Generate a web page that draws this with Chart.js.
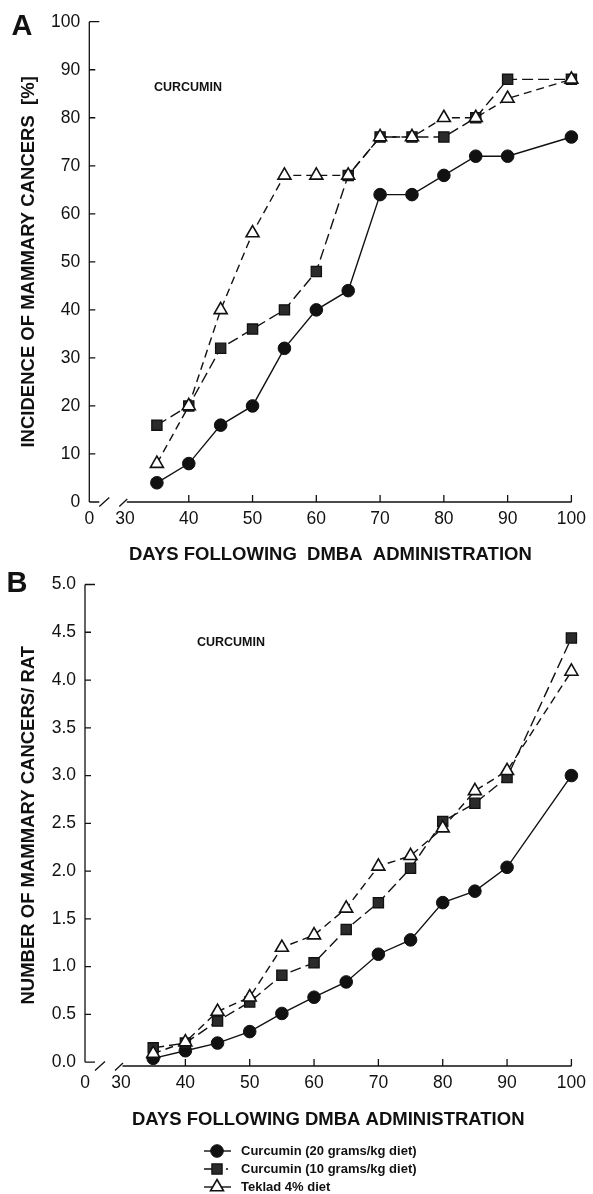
<!DOCTYPE html>
<html lang="en">

<head>
  <meta charset="UTF-8">
  <title>Curcumin | Mammary cancers</title>
  <script src="https://cdn.jsdelivr.net/npm/chart.js"></script>
  <style>
    body { margin: 0; background: #fff; }
    .painel { position: absolute; left: 0; }
    .painel canvas { display: block; }
    #painelA { top: 0; }
    #painelB { top: 565px; }
  </style>
</head>

<body>
  <div class="painel" id="painelA"><canvas id="chartA" width="593" height="575"></canvas></div>
  <div class="painel" id="painelB"><canvas id="chartB" width="593" height="629"></canvas></div>

  <script>
    // dias apos DMBA
    const dias = [35, 40, 45, 50, 55, 60, 65, 70, 75, 80, 85, 90, 100];

    // A - incidencia (%)
    const incidencia20 = [4, 8, 16, 20, 32, 40, 44, 64, 64, 68, 72, 72, 76];
    const incidencia10 = [16, 20, 32, 36, 40, 48, 68, 76, 76, 76, 80, 88, 88];
    const incidenciaTeklad = [8, 20, 40, 56, 68, 68, 68, 76, 76, 80, 80, 84, 88];

    // B - numero de canceres por rato
    const numero20 = [0.04, 0.12, 0.2, 0.32, 0.51, 0.68, 0.84, 1.13, 1.28, 1.67, 1.79, 2.04, 3.0];
    const numero10 = [0.15, 0.2, 0.43, 0.63, 0.91, 1.04, 1.39, 1.67, 2.03, 2.52, 2.71, 2.98, 4.44];
    const numeroTeklad = [0.09, 0.21, 0.53, 0.68, 1.2, 1.33, 1.61, 2.05, 2.16, 2.45, 2.84, 3.05, 4.09];

    const nomes = ['Curcumin (20 grams/kg diet)', 'Curcumin (10 grams/kg diet)', 'Teklad 4% diet'];

    // eixo x quebrado: o "0" fica no inicio, depois salta para 30
    const xZero = 24.4;
    const xTickValues = [xZero, 30, 40, 50, 60, 70, 80, 90, 100];
    const xTickLabels = ['0', '30', '40', '50', '60', '70', '80', '90', '100'];
    const yTicksA = [0, 10, 20, 30, 40, 50, 60, 70, 80, 90, 100];
    const yTicksB = [0, 0.5, 1, 1.5, 2, 2.5, 3, 3.5, 4, 4.5, 5];

    const familia = '"Liberation Sans", Arial, sans-serif';
    const fonteTicks = { family: familia, size: 17.5 };
    const fonteTitulo = { family: familia, size: 18.5, weight: 'bold' };

    const estilos = [
      { pointStyle: 'circle', pointRadius: 6.3, pointBackgroundColor: '#111', pointBorderWidth: 1, order: 2 },
      { pointStyle: 'rect', pointRadius: 7.2, pointBackgroundColor: '#2b2b2b', pointBorderWidth: 1.3, borderDash: [11, 5], order: 1 },
      { pointStyle: 'triangle', pointRadius: 7.5, pointBackgroundColor: '#fff', pointBorderWidth: 1.6, borderDash: [8, 5], order: 0 }
    ];

    function serie(i, valores) {
      return Object.assign({
        label: nomes[i],
        data: dias.map((d, k) => ({ x: d, y: valores[k] })),
        borderColor: '#111',
        pointBorderColor: '#111',
        borderWidth: 1.4,
        tension: 0,
        clip: false
      }, estilos[i]);
    }

    // desenha os eixos (ticks para dentro, quebra no eixo x), letras e legenda
    const moldura = {
      id: 'moldura',
      beforeDatasetsDraw(chart, args, opts) {
        const { ctx, chartArea } = chart;
        const x = chart.scales.x, y = chart.scales.y;
        const esq = chartArea.left;
        const base = chartArea.bottom;
        const topo = y.getPixelForValue(opts.yMax);
        const zero = y.getPixelForValue(0);

        ctx.save();
        ctx.strokeStyle = '#111';
        ctx.lineWidth = 1.3;
        ctx.beginPath();
        ctx.moveTo(esq, topo);
        ctx.lineTo(esq, zero);
        y.ticks.forEach(t => {
          const py = y.getPixelForValue(t.value);
          const len = (t.value === opts.yMax || t.value === 0) ? 10 : 6;
          ctx.moveTo(esq, py);
          ctx.lineTo(esq + len, py);
        });
        // quebra
        ctx.moveTo(esq + 10, base + 4.5);
        ctx.lineTo(esq + 20, base - 4.5);
        ctx.moveTo(esq + 30, base + 4.5);
        ctx.lineTo(esq + 38, base - 3);
        ctx.moveTo(esq + 37.5, base);
        ctx.lineTo(chartArea.right, base);
        x.ticks.forEach(t => {
          if (t.value < 40) return;
          const px = x.getPixelForValue(t.value);
          ctx.moveTo(px, base);
          ctx.lineTo(px, base - 7);
        });
        ctx.stroke();
        ctx.restore();
      },
      afterDraw(chart, args, opts) {
        const { ctx } = chart;
        ctx.save();
        ctx.fillStyle = '#111';
        ctx.textAlign = 'center';
        ctx.textBaseline = 'middle';
        ctx.font = 'bold 29px ' + familia;
        ctx.fillText(opts.letra, opts.letraPos[0], opts.letraPos[1]);
        ctx.font = 'bold 12.5px ' + familia;
        ctx.fillText('CURCUMIN', opts.notaPos[0], opts.notaPos[1]);

        if (opts.legenda) {
          const linhas = opts.legenda.linhas;
          const mx = opts.legenda.x;
          chart.data.datasets.forEach((ds, i) => {
            const ly = linhas[i];
            ctx.strokeStyle = '#111';
            ctx.lineWidth = 1.4;
            ctx.beginPath();
            if (i === 1) {
              ctx.moveTo(mx - 13, ly);
              ctx.lineTo(mx, ly);
              ctx.moveTo(mx + 9, ly);
              ctx.lineTo(mx + 11, ly);
            } else {
              ctx.moveTo(mx - 13, ly);
              ctx.lineTo(mx + 14, ly);
            }
            ctx.stroke();
            ctx.fillStyle = ds.pointBackgroundColor;
            ctx.lineWidth = ds.pointBorderWidth;
            Chart.helpers.drawPoint(ctx, {
              pointStyle: ds.pointStyle, radius: ds.pointRadius, rotation: 0, borderWidth: ds.pointBorderWidth
            }, mx, ly);
            ctx.fillStyle = '#111';
            ctx.textAlign = 'left';
            ctx.font = 'bold 13px ' + familia;
            ctx.fillText(ds.label, mx + 24, ly);
          });
        }
        ctx.restore();
      }
    };

    function opcoes(cfg) {
      return {
        responsive: false,
        animation: false,
        layout: { padding: cfg.padding },
        plugins: {
          legend: { display: false },
          tooltip: { enabled: false },
          moldura: cfg.moldura
        },
        scales: {
          x: {
            type: 'linear',
            min: xZero,
            max: 100,
            grid: { display: false, drawTicks: false },
            border: { display: false },
            afterFit: s => { s.height = cfg.alturaX; },
            afterBuildTicks: s => { s.ticks = xTickValues.map(v => ({ value: v })); },
            ticks: {
              autoSkip: false, maxRotation: 0, padding: 7, color: '#111', font: fonteTicks,
              callback: (v, i) => xTickLabels[i]
            },
            title: {
              display: true, text: cfg.tituloX, color: '#111', font: fonteTitulo,
              padding: { top: 0, bottom: cfg.padTituloX }
            }
          },
          y: {
            min: cfg.yMin,
            max: cfg.yMax,
            grid: { display: false, drawTicks: false },
            border: { display: false },
            afterFit: s => { s.width = cfg.larguraY; },
            afterBuildTicks: s => { s.ticks = cfg.yTicks.map(v => ({ value: v })); },
            ticks: {
              padding: 9, color: '#111', font: fonteTicks,
              callback: cfg.rotuloY
            },
            title: {
              display: true, text: cfg.tituloY, color: '#111', font: fonteTitulo,
              padding: { top: 17.4, bottom: 0 }
            }
          }
        }
      };
    }

    new Chart(document.getElementById('chartA'), {
      type: 'line',
      data: {
        datasets: [serie(0, incidencia20), serie(1, incidencia10), serie(2, incidenciaTeklad)]
      },
      options: opcoes({
        padding: { left: 0, top: 21.7, right: 15, bottom: 0 },
        alturaX: 73,
        larguraY: 89.3,
        padTituloX: 8.9,
        yMin: 0,
        yMax: 100,
        yTicks: yTicksA,
        rotuloY: v => String(v),
        tituloX: 'DAYS FOLLOWING  DMBA  ADMINISTRATION',
        tituloY: 'INCIDENCE OF MAMMARY CANCERS  [%]',
        moldura: { yMax: 100, letra: 'A', letraPos: [22, 27], notaPos: [188, 88] }
      }),
      plugins: [moldura]
    });

    new Chart(document.getElementById('chartB'), {
      type: 'line',
      data: {
        datasets: [serie(0, numero20), serie(1, numero10), serie(2, numeroTeklad)]
      },
      options: opcoes({
        padding: { left: 0, top: 16.7, right: 20.5, bottom: 0 },
        alturaX: 128,
        larguraY: 85,
        padTituloX: 62.9,
        yMin: -0.04,
        yMax: 5,
        yTicks: yTicksB,
        rotuloY: v => v.toFixed(1),
        tituloX: 'DAYS FOLLOWING DMBA ADMINISTRATION',
        tituloY: 'NUMBER OF MAMMARY CANCERS/ RAT',
        moldura: { yMax: 5, letra: 'B', letraPos: [17, 19], notaPos: [231, 78], legenda: { x: 217, linhas: [586, 604, 622] } }
      }),
      plugins: [moldura]
    });
  </script>

</body>

</html>
